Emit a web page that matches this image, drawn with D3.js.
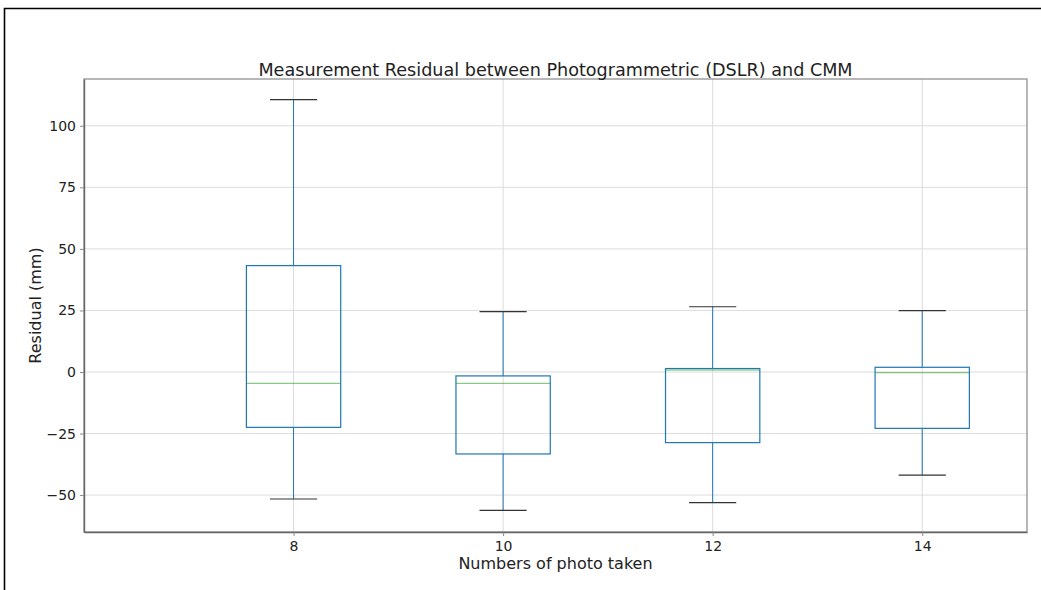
<!DOCTYPE html>
<html>
<head>
<meta charset="utf-8">
<script src="https://cdn.jsdelivr.net/npm/d3@7"></script>
<style>
  body { margin: 0; background: #fff; }
  text { font-family: "DejaVu Sans", sans-serif; fill: #222; }
</style>
</head>
<body>
<div id="chart-area"></div>
<script>

// SVG size
var width = 1041,
	height = 590;

// data
var categories = [8, 10, 12, 14];
var whiskerLow = [-51.6, -56.2, -53.1, -41.9];
var q1 = [-22.5, -33.3, -28.7, -22.9];
var medians = [-4.6, -4.6, 0.8, -0.3];
var q3 = [43.2, -1.6, 1.4, 1.9];
var whiskerHigh = [110.6, 24.5, 26.5, 24.9];

var yTicks = [-50, -25, 0, 25, 50, 75, 100];
var xTicks = [8, 10, 12, 14];

var margin = {top: 79, right: 14, bottom: 58, left: 84};
var plotW = width - margin.left - margin.right,
	plotH = height - margin.top - margin.bottom;

var svg = d3.select("#chart-area")
	.append("svg")
	.attr("width", width)
	.attr("height", height);

// outer frame (top and left edge of the screenshot)
svg.append("path")
	.attr("d", "M4.5," + height + "V8.5H" + width)
	.attr("fill", "none")
	.attr("stroke", "#000")
	.attr("stroke-width", 1.6);

var g = svg.append("g")
	.attr("transform", "translate(" + margin.left + "," + margin.top + ")");

var x = d3.scaleLinear().domain([6, 15]).range([0, plotW]);
var y = d3.scaleLinear().domain([-65, 119]).range([plotH, 0]);

// grid
g.selectAll(".ygrid").data(yTicks).enter()
	.append("line")
	.attr("x1", 0).attr("x2", plotW)
	.attr("y1", function (d) {return y(d)})
	.attr("y2", function (d) {return y(d)})
	.attr("stroke", "#dcdcdc");

g.selectAll(".xgrid").data(xTicks).enter()
	.append("line")
	.attr("y1", 0).attr("y2", plotH)
	.attr("x1", function (d) {return x(d)})
	.attr("x2", function (d) {return x(d)})
	.attr("stroke", "#dcdcdc");

// boxes
var half = 0.45, capHalf = 0.225;
var data = categories.map(function (c, i) {
	return {cat: c, lo: whiskerLow[i], q1: q1[i], med: medians[i], q3: q3[i], hi: whiskerHigh[i]};
});

var box = g.selectAll(".box").data(data).enter().append("g");

box.append("line")
	.attr("x1", function (d) {return x(d.cat)})
	.attr("x2", function (d) {return x(d.cat)})
	.attr("y1", function (d) {return y(d.q3)})
	.attr("y2", function (d) {return y(d.hi)})
	.attr("stroke", "#1f77b4");

box.append("line")
	.attr("x1", function (d) {return x(d.cat)})
	.attr("x2", function (d) {return x(d.cat)})
	.attr("y1", function (d) {return y(d.q1)})
	.attr("y2", function (d) {return y(d.lo)})
	.attr("stroke", "#1f77b4");

box.append("rect")
	.attr("x", function (d) {return x(d.cat - half)})
	.attr("width", function (d) {return x(d.cat + half) - x(d.cat - half)})
	.attr("y", function (d) {return y(d.q3)})
	.attr("height", function (d) {return y(d.q1) - y(d.q3)})
	.attr("fill", "none")
	.attr("stroke", "#1f77b4")
	.attr("stroke-width", 1.2);

box.append("line")
	.attr("x1", function (d) {return x(d.cat - half)})
	.attr("x2", function (d) {return x(d.cat + half)})
	.attr("y1", function (d) {return y(d.med)})
	.attr("y2", function (d) {return y(d.med)})
	.attr("stroke", "#2ca02c")
	.attr("stroke-opacity", 0.7);

["lo", "hi"].forEach(function (k) {
	box.append("line")
		.attr("x1", function (d) {return x(d.cat - capHalf)})
		.attr("x2", function (d) {return x(d.cat + capHalf)})
		.attr("y1", function (d) {return y(d[k])})
		.attr("y2", function (d) {return y(d[k])})
		.attr("stroke", "#333")
		.attr("stroke-width", 1.2);
});

// frame of the axes
g.append("rect")
	.attr("width", plotW).attr("height", plotH)
	.attr("fill", "none")
	.attr("stroke", "#888")
	.attr("stroke-width", 1.2);

// axes
var yAxis = d3.axisLeft(y).tickValues(yTicks).tickSize(4).tickSizeOuter(0).tickPadding(4)
	.tickFormat(function (d) {return d < 0 ? "\u2212" + Math.abs(d) : d});
var xAxis = d3.axisBottom(x).tickValues(xTicks).tickSize(4).tickSizeOuter(0).tickPadding(5);

var ya = g.append("g").call(yAxis);
var xa = g.append("g").attr("transform", "translate(0," + plotH + ")").call(xAxis);

[ya, xa].forEach(function (a) {
	a.select(".domain").attr("stroke", "#666").attr("stroke-width", 1.4);
	a.selectAll(".tick line").attr("stroke", "#888");
	a.selectAll(".tick text").style("font-family", "DejaVu Sans").style("font-size", "14px").attr("fill", "#222");
});

// labels
svg.append("text")
	.attr("x", margin.left + plotW / 2).attr("y", 76)
	.attr("text-anchor", "middle")
	.style("font-size", "17.6px")
	.text("Measurement Residual between Photogrammetric (DSLR) and CMM");

svg.append("text")
	.attr("x", margin.left + plotW / 2).attr("y", 569)
	.attr("text-anchor", "middle")
	.style("font-size", "16px")
	.text("Numbers of photo taken");

svg.append("text")
	.attr("transform", "translate(41," + (margin.top + plotH / 2) + ") rotate(-90)")
	.attr("text-anchor", "middle")
	.style("font-size", "16px")
	.text("Residual (mm)");

</script>
</body>
</html>
